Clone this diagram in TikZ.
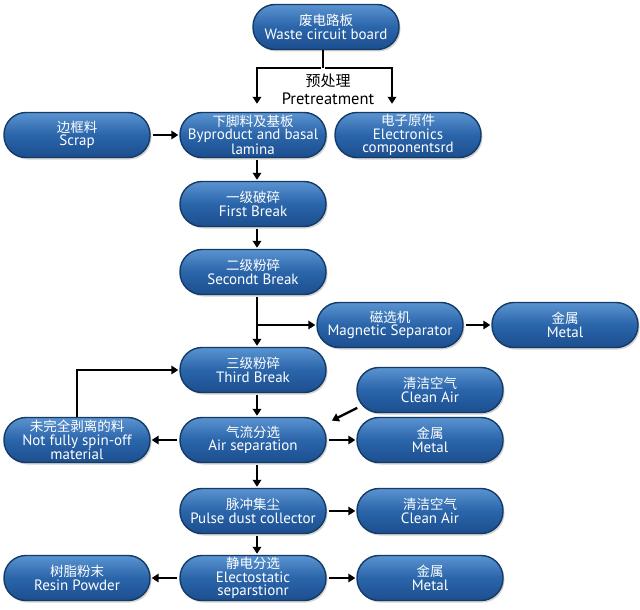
\documentclass[tikz,border=0pt]{standalone}
\usepackage{fontspec}
\setmainfont{PT Sans}
\newfontfamily\cjkf{Noto Sans CJK SC}
\newcommand{\zh}[1]{{\cjkf\fontsize{13.5}{13.5}\selectfont #1}}
\usetikzlibrary{arrows.meta,shadows,calc}
\definecolor{boxtop}{HTML}{5A93D0}
\definecolor{boxmid}{HTML}{2A65AA}
\definecolor{boxbot}{HTML}{1C4F8F}
\definecolor{boxedge}{HTML}{143A66}
\tikzset{
  pill/.style={rectangle, rounded corners=22pt, minimum width=146pt, minimum height=45pt,
    inner sep=1pt, draw=boxedge, line width=1.4pt, top color=boxtop, bottom color=boxbot,
    middle color=boxmid, text=white, align=center,
    font=\fontsize{15}{13.5}\selectfont,
    drop shadow={shadow xshift=1.5pt, shadow yshift=-2pt, opacity=0.35}},
  flow/.style={line width=2.8pt, -{Triangle[length=7pt,width=8.5pt]}, shorten >=1pt, shorten <=2pt},
  plain/.style={line width=2.8pt},
}
\begin{document}
\begin{tikzpicture}[x=1pt,y=-1pt]
\useasboundingbox (0,0) rectangle (640,610);
% nodes
\node[pill] (waste) at (326,27) {\zh{废电路板}\\Waste circuit board};
\node[pill] (scrap) at (77,135) {\zh{边框料}\\Scrap};
\node[pill] (byp) at (253,135) {\zh{下脚料及基板}\\Byproduct and basal\\lamina};
\node[pill] (elec) at (408,135) {\zh{电子原件}\\Electronics\\componentsrd};
\node[pill] (first) at (253,204) {\zh{一级破碎}\\First Break};
\node[pill] (second) at (253,272) {\zh{二级粉碎}\\Secondt Break};
\node[pill] (mag) at (390,325) {\zh{磁选机}\\Magnetic Separator};
\node[pill] (metal1) at (565,325) {\zh{金属}\\Metal};
\node[pill] (third) at (253,370) {\zh{三级粉碎}\\Third Break};
\node[pill] (clean1) at (430,390) {\zh{清洁空气}\\Clean Air};
\node[pill] (notfull) at (77,440) {\zh{未完全剥离的料}\\Not fully spin-off\\material};
\node[pill] (air) at (253,440) {\zh{气流分选}\\Air separation};
\node[pill] (metal2) at (430,440) {\zh{金属}\\Metal};
\node[pill] (pulse) at (253,511) {\zh{脉冲集尘}\\Pulse dust collector};
\node[pill] (clean2) at (430,511) {\zh{清洁空气}\\Clean Air};
\node[pill] (resin) at (77,578) {\zh{树脂粉末}\\Resin Powder};
\node[pill] (elecsep) at (253,578) {\zh{静电分选}\\Electostatic\\separstionr};
\node[pill] (metal3) at (430,578) {\zh{金属}\\Metal};
\node[align=center, font=\fontsize{16.5}{18}\selectfont] (pre) at (328,89) {{\cjkf\fontsize{15}{15}\selectfont 预处理}\\Pretreatment};
% coordinates
\coordinate (split) at (323,68);
\coordinate (sl) at (257,68);
\coordinate (sr) at (392,68);
\coordinate (cx) at (257,0);
\coordinate (d1) at (359,407);
\coordinate (d2) at (331,421);
% connectors
\draw[plain] (waste.south -| split) -- (split);
\draw[flow, shorten >=8pt] (split) -| (sl |- byp.north);
\draw[flow, shorten >=8pt] (split) -| (sr |- elec.north);
\draw[flow] (scrap.east) -- (byp.west);
\draw[flow] (byp.south -| cx) -- (first.north -| cx);
\draw[flow] (first.south -| cx) -- (second.north -| cx);
\draw[flow] (second.south -| cx) -- (third.north -| cx);
\draw[flow, shorten <=0pt] (cx |- mag) -- (mag.west);
\draw[flow] (mag.east) -- (metal1.west);
\draw[flow] (third.south -| cx) -- (air.north -| cx);
\draw[flow, shorten <=0pt] (notfull.north) |- (third.west);
\draw[flow, line width=2.4pt] (d1) -- (d2);
\draw[flow] (air.east) -- (metal2.west);
\draw[flow] (air.west) -- (notfull.east);
\draw[flow] (air.south -| cx) -- (pulse.north -| cx);
\draw[flow] (pulse.east) -- (clean2.west);
\draw[flow] (pulse.south -| cx) -- (elecsep.north -| cx);
\draw[flow] (elecsep.west) -- (resin.east);
\draw[flow] (elecsep.east) -- (metal3.west);
\end{tikzpicture}
\end{document}
